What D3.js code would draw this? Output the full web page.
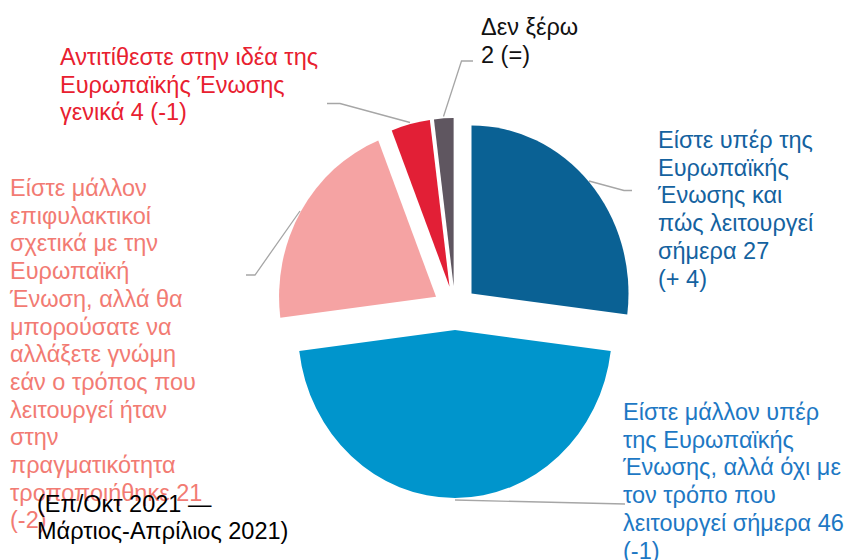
<!DOCTYPE html>
<html>
<head>
<meta charset="utf-8">
<script src="https://cdn.jsdelivr.net/npm/d3@7"></script>
<style>
	body { margin: 0; background: #fff; }
	svg { display: block; font-family: "Liberation Sans", Arial, sans-serif; }
</style>
</head>
<body>
<svg id="chart" width="850" height="560"></svg>
<script>
const WIDTH = 850;
const HEIGHT = 560;

// slices, clockwise from 12 o'clock
const categories = ['pro_now', 'pro_not_how', 'cautious', 'against', 'dont_know'];
const values = [27, 46, 21, 4, 2];
const sliceColors = ['#0a6194', '#0095cc', '#f5a3a3', '#e21f36', '#5f5660'];
const textColors = ['#14629f', '#1d78c4', '#f27b73', '#e8202f', '#111111'];

const labelLines = [
	['Είστε υπέρ της', 'Ευρωπαϊκής', 'Ένωσης και', 'πώς λειτουργεί', 'σήμερα 27', '(+ 4)'],
	['Είστε μάλλον υπέρ', 'της Ευρωπαϊκής', 'Ένωσης, αλλά όχι με', 'τον τρόπο που', 'λειτουργεί σήμερα 46', '(-1)'],
	['Είστε μάλλον', 'επιφυλακτικοί', 'σχετικά με την', 'Ευρωπαϊκή', 'Ένωση, αλλά θα', 'μπορούσατε να',
		'αλλάξετε γνώμη', 'εάν ο τρόπος που', 'λειτουργεί ήταν', 'στην', 'πραγματικότητα', 'τροποποιήθηκε 21', '(-2)'],
	['Αντιτίθεστε στην ιδέα της', 'Ευρωπαϊκής Ένωσης', 'γενικά 4 (-1)'],
	['Δεν ξέρω', '2 (=)']
];
const noteLines = ['(Επ/Οκτ 2021 —', 'Μάρτιος-Απρίλιος 2021)'];

// label anchor (left x, first baseline) and leader polylines
const labelPos = [[658, 148], [623, 420], [10, 196], [60, 65], [481, 35]];
const leaders = [
	[[589, 181], [624, 190.5], [632, 190.5]],
	[[455, 500], [625, 504]],
	[[300, 211], [255, 275], [246, 275]],
	[[410, 122.5], [340, 103.5], [327, 103.5]],
	[[443.5, 116.5], [461.5, 61], [473, 61]]
];

const LINE_H = 27.7;
const FONT = 23.5;

const cx = 455;
const cy = 308;
const r = 157;
const yScale = 1.07;
const explode = 22;

const svg = d3.select('#chart');

const pie = d3.pie().sort(null).value(d => d)(values);
const arc = d3.arc().innerRadius(0).outerRadius(r);

const $slices = svg.append('g').attr('class', 'g-slices');

$slices.selectAll('path')
	.data(pie)
	.enter()
	.append('path')
	.attr('d', arc)
	.attr('fill', (d, i) => sliceColors[i])
	.attr('transform', d => {
		const mid = (d.startAngle + d.endAngle) / 2;
		const dx = explode * Math.sin(mid);
		const dy = -explode * Math.cos(mid);
		return `translate(${cx + dx},${cy + dy}) scale(1,${yScale})`;
	});

// leader lines
const line = d3.line();
svg.append('g')
	.selectAll('path')
	.data(leaders)
	.enter()
	.append('path')
	.attr('d', d => line(d))
	.attr('fill', 'none')
	.attr('stroke', '#a6a6a6')
	.attr('stroke-width', 1.3);

// labels
const $labels = svg.append('g').attr('class', 'g-labels');
labelLines.forEach((lines, i) => {
	const [x, y] = labelPos[i];
	const $t = $labels.append('text')
		.attr('x', x)
		.attr('y', y)
		.attr('fill', textColors[i])
		.attr('font-size', FONT);
	$t.selectAll('tspan')
		.data(lines)
		.enter()
		.append('tspan')
		.attr('x', x)
		.attr('y', (d, j) => y + j * LINE_H)
		.text(d => d);
});

// note
const $note = svg.append('text')
	.attr('fill', '#000')
	.attr('font-size', FONT);
$note.selectAll('tspan')
	.data(noteLines)
	.enter()
	.append('tspan')
	.attr('x', 37)
	.attr('y', (d, j) => 512 + j * 27)
	.text(d => d);
</script>
</body>
</html>
